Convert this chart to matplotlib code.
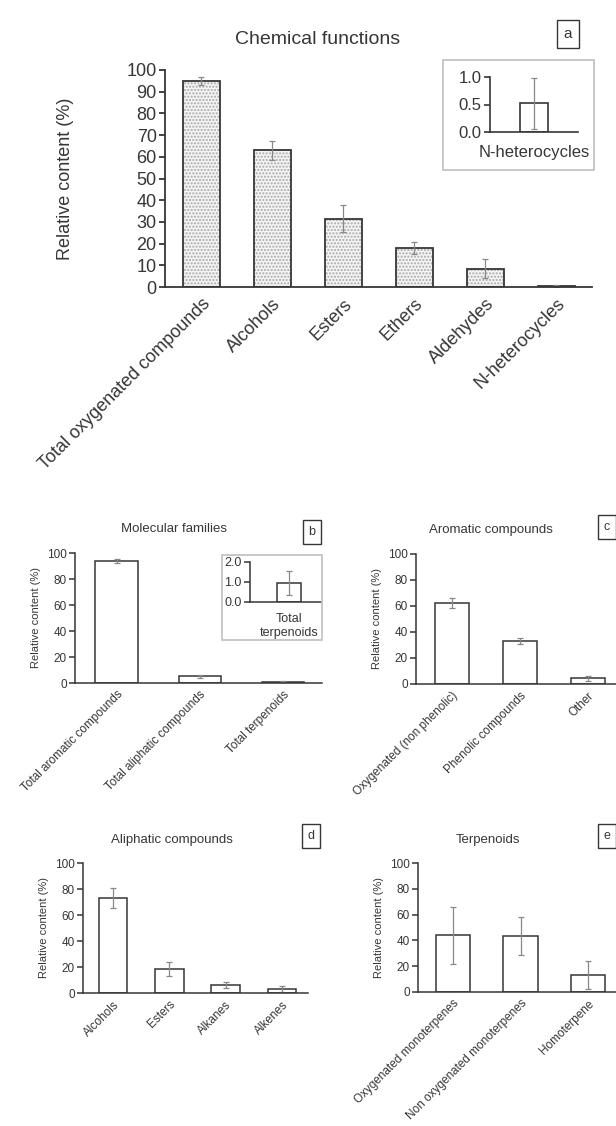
"""
Relative content of volatile compounds, panels a-e
"""

import numpy as np
import matplotlib.pyplot as plt
from matplotlib.patches import Rectangle

plt.rcParams['font.family'] = ['Liberation Sans', 'DejaVu Sans']

W, H = 616, 1126
INK = '#363636'
ERR = '#888888'
YLAB = "Relative content (%)"

# a - chemical functions
func_labels = ["Total oxygenated compounds", "Alcohols", "Esters", "Ethers",
               "Aldehydes", "N-heterocycles"]
func_vals = [95, 63, 31.5, 18, 8.5, 0.5]
func_err = [1.7, 4.3, 6.2, 2.7, 4.2, 0.3]
nhet_vals = [0.52]
nhet_err = [0.47]

# b - molecular families
fam_labels = ["Total aromatic compounds", "Total aliphatic compounds", "Total terpenoids"]
fam_vals = [94, 5.3, 1.0]
fam_err = [1.5, 1.2, 0.5]
terp_vals = [0.97]
terp_err = [0.6]

# c - aromatic compounds
aro_labels = ["Oxygenated (non phenolic)", "Phenolic compounds", "Other"]
aro_vals = [62.5, 33, 4.5]
aro_err = [3.7, 2.5, 2.0]

# d - aliphatic compounds
ali_labels = ["Alcohols", "Esters", "Alkanes", "Alkenes"]
ali_vals = [73, 18.5, 6, 3]
ali_err = [7.5, 5.5, 2.5, 2.5]

# e - terpenoids
ter_labels = ["Oxygenated monoterpenes", "Non oxygenated monoterpenes", "Homoterpene"]
ter_vals = [44, 43.5, 13]
ter_err = [22, 14.5, 11]


def px_rect(x0, y0, x1, y1):
    """Pixel box (top-left origin) to figure fraction rect."""
    return [x0 / W, 1 - y1 / H, (x1 - x0) / W, (y1 - y0) / H]


def style_axes(ax, fs, lw):
    for side in ('top', 'right'):
        ax.spines[side].set_visible(False)
    for side in ('left', 'bottom'):
        ax.spines[side].set_color(INK)
        ax.spines[side].set_linewidth(lw)
    ax.tick_params(axis='y', colors=INK, labelsize=fs, length=4, width=lw, pad=2)
    ax.tick_params(axis='x', colors=INK, labelsize=fs, length=0)
    ax.set_facecolor('none')


def bar_panel(fig, rect, labels, vals, errs, xlim, fs, lw, hatched=False,
              ylab_fs=None, pad=4):
    ax = fig.add_axes(rect)
    x = np.arange(len(vals))
    if hatched:
        ax.bar(x, vals, width=0.52, color='#f4f4f4', edgecolor='#a8a8a8',
               hatch='.....', linewidth=0)
        ax.bar(x, vals, width=0.52, fill=False, edgecolor=INK, linewidth=lw)
    else:
        ax.bar(x, vals, width=0.51, color='white', edgecolor=INK, linewidth=lw)
    ax.errorbar(x, vals, yerr=errs, fmt='none', ecolor=ERR, elinewidth=0.9,
                capsize=2.5, capthick=0.9)
    ax.set_xlim(*xlim)
    ax.set_xticks(x)
    ax.set_xticklabels(labels, rotation=45, ha='right', rotation_mode='anchor')
    ax.tick_params(axis='x', pad=pad)
    style_axes(ax, fs, lw)
    if ylab_fs:
        ax.set_ylabel(YLAB, fontsize=ylab_fs, color=INK)
    return ax


def panel_tag(fig, x, y, letter, fs):
    fig.text(x / W, 1 - y / H, letter, fontsize=fs, color=INK, ha='center',
             va='center', bbox=dict(boxstyle='square,pad=0.45', fc='white',
                                    ec=INK, lw=1.0))


def inset_frame(fig, x0, y0, x1, y1):
    r = px_rect(x0, y0, x1, y1)
    fig.add_artist(Rectangle((r[0], r[1]), r[2], r[3], transform=fig.transFigure,
                             fill=False, ec='#c4c4c4', lw=1.3))


fig = plt.figure(figsize=(W / 100, H / 100), dpi=100)

# ---- panel a
ax_a = bar_panel(fig, px_rect(165, 70, 592, 287), func_labels, func_vals, func_err,
                 (-0.51, 5.5), 13, 1.3, hatched=True, pad=6)
ax_a.set_ylim(0, 100)
ax_a.set_yticks(range(0, 101, 10))
ax_a.set_ylabel(YLAB, fontsize=13, color=INK, labelpad=38)
fig.text(318 / W, 1 - 40 / H, "Chemical functions", fontsize=14, color=INK,
         ha='center', va='center')
panel_tag(fig, 568, 34, 'a', 11)

inset_frame(fig, 443, 60, 594, 170)
ax_ai = fig.add_axes(px_rect(490, 77, 578, 132))
ax_ai.bar([0], nhet_vals, width=0.5, color='white', edgecolor=INK, linewidth=1.2)
ax_ai.errorbar([0], nhet_vals, yerr=nhet_err, fmt='none', ecolor=ERR,
               elinewidth=0.9, capsize=2.5, capthick=0.9)
ax_ai.set_xlim(-0.79, 0.79)
ax_ai.set_ylim(0, 1.0)
ax_ai.set_yticks([0, 0.5, 1.0])
ax_ai.set_yticklabels(["0.0", "0.5", "1.0"])
ax_ai.set_xticks([0])
ax_ai.set_xticklabels(["N-heterocycles"])
style_axes(ax_ai, 12, 1.2)
ax_ai.tick_params(axis='x', pad=9)

# ---- panel b
ax_b = bar_panel(fig, px_rect(75, 553, 322, 683), fam_labels, fam_vals, fam_err,
                 (-0.5, 2.47), 8.5, 1.1, ylab_fs=8)
ax_b.set_ylim(0, 100)
ax_b.set_yticks(range(0, 101, 20))
fig.text(174 / W, 1 - 529 / H, "Molecular families", fontsize=9.5, color=INK,
         ha='center', va='center')
panel_tag(fig, 312, 532, 'b', 9)

inset_frame(fig, 222, 555, 322, 640)
ax_bi = fig.add_axes(px_rect(250, 562, 322, 602))
ax_bi.bar([0], terp_vals, width=0.5, color='white', edgecolor=INK, linewidth=1.1)
ax_bi.errorbar([0], terp_vals, yerr=terp_err, fmt='none', ecolor=ERR,
               elinewidth=0.9, capsize=2.0, capthick=0.9)
ax_bi.set_xlim(-0.79, 0.67)
ax_bi.set_ylim(0, 2.0)
ax_bi.set_yticks([0, 1.0, 2.0])
ax_bi.set_yticklabels(["0.0", "1.0", "2.0"])
ax_bi.set_xticks([0])
ax_bi.set_xticklabels(["Total\nterpenoids"])
style_axes(ax_bi, 9, 1.1)
ax_bi.tick_params(axis='x', pad=8)

# ---- panel c
ax_c = bar_panel(fig, px_rect(416, 554, 620, 684), aro_labels, aro_vals, aro_err,
                 (-0.53, 2.47), 8.5, 1.1, ylab_fs=8)
ax_c.set_ylim(0, 100)
ax_c.set_yticks(range(0, 101, 20))
fig.text(491 / W, 1 - 530 / H, "Aromatic compounds", fontsize=9.5, color=INK,
         ha='center', va='center')
panel_tag(fig, 607, 527, 'c', 9)

# ---- panel d
ax_d = bar_panel(fig, px_rect(83, 863, 308, 993), ali_labels, ali_vals, ali_err,
                 (-0.53, 3.46), 8.5, 1.1, ylab_fs=8)
ax_d.set_ylim(0, 100)
ax_d.set_yticks(range(0, 101, 20))
fig.text(172 / W, 1 - 840 / H, "Aliphatic compounds", fontsize=9.5, color=INK,
         ha='center', va='center')
panel_tag(fig, 311, 836, 'd', 9)

# ---- panel e
ax_e = bar_panel(fig, px_rect(418, 863, 620, 992), ter_labels, ter_vals, ter_err,
                 (-0.52, 2.47), 8.5, 1.1, ylab_fs=8)
ax_e.set_ylim(0, 100)
ax_e.set_yticks(range(0, 101, 20))
fig.text(488 / W, 1 - 840 / H, "Terpenoids", fontsize=9.5, color=INK,
         ha='center', va='center')
panel_tag(fig, 607, 836, 'e', 9)

fig.savefig("out.png", dpi=100)
